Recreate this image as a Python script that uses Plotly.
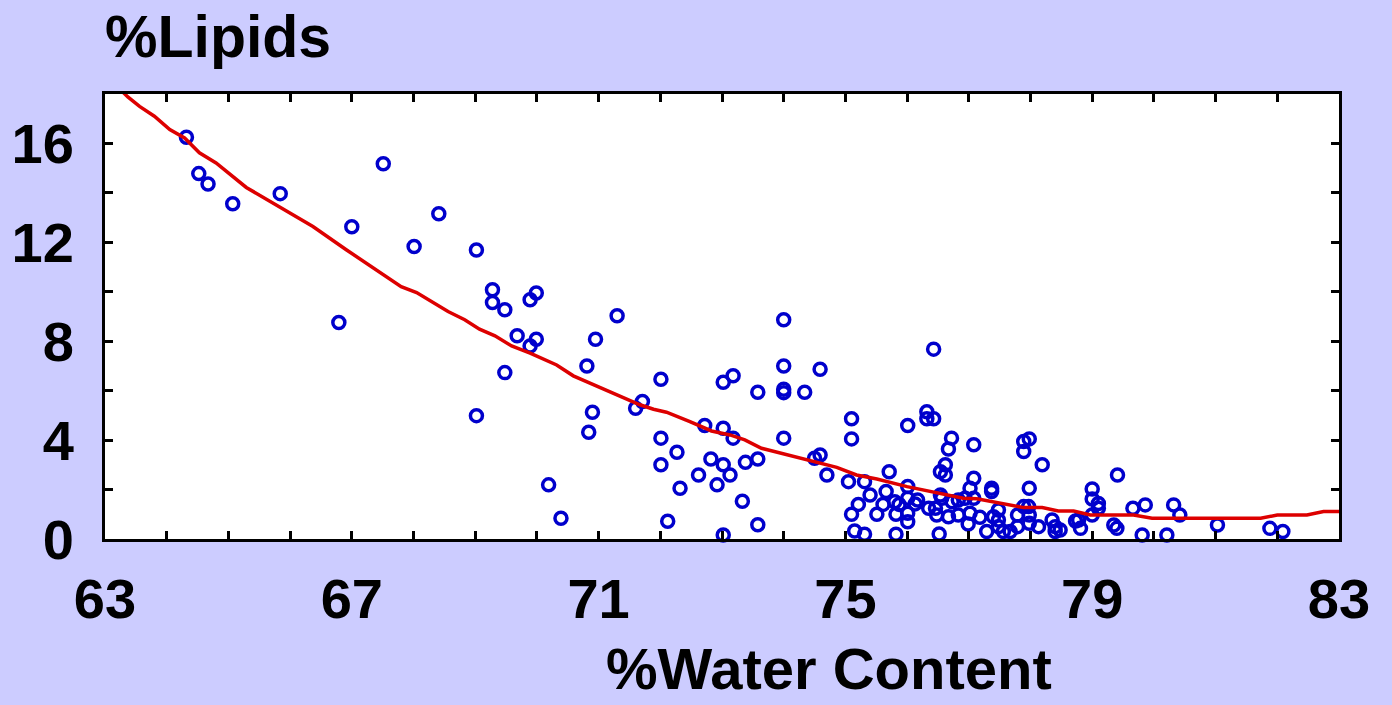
import plotly.graph_objects as go

# Scatter data
water = [64.32, 64.52, 64.67, 65.07, 65.84, 67.51, 67.0, 66.79, 68.41, 68.01, 69.02, 69.28, 69.28,
         69.48, 69.89, 69.99, 69.68, 69.89, 69.99, 69.48, 69.02, 71.30, 70.95, 70.81, 70.90, 70.84,
         70.19, 70.39, 71.60, 71.71,
         72.01, 72.01, 72.01, 72.27, 72.32, 72.12, 72.72, 73.02, 73.18, 73.02, 73.18, 72.82, 73.02,
         73.13, 72.62, 72.92, 73.02, 73.33, 73.38, 73.58, 73.58, 73.58,
         74.0, 74.0, 74.0, 74.0, 74.0, 74.34, 74.59, 74.50, 74.59, 74.70,
         75.10, 75.10, 75.05, 75.31, 75.40, 75.21, 75.10, 75.15, 75.31, 75.51, 75.61, 75.66, 75.71,
         75.82, 75.87, 75.82, 75.80,
         76.01, 76.01, 76.01, 76.01, 76.01, 76.13, 76.17, 76.32, 76.32, 76.43, 76.43, 76.35, 76.46,
         76.48, 76.52, 76.54, 76.62, 76.62, 76.67, 76.72, 76.56, 76.54, 76.73, 76.83, 76.67, 76.83, 76.94,
         77.08, 77.08, 77.02, 77.08, 77.02, 76.99, 77.18, 77.29, 77.37, 77.37, 77.40, 77.48, 77.48,
         77.48, 77.56, 77.67, 77.79, 77.79,
         77.89, 77.98, 77.89, 78.19, 77.98, 77.89, 77.97, 77.98, 77.98, 78.13, 78.35, 78.40, 78.40, 78.48,
         78.73, 78.78, 78.81, 79.0, 79.0, 79.10, 79.10, 79.0, 79.35, 79.40, 79.41, 79.66, 79.86, 79.81,
         80.21, 80.32, 80.42, 81.03, 81.88, 82.09]
lipids = [16.25, 14.78, 14.36, 13.56, 13.97, 15.18, 12.63, 8.76, 13.16, 11.83, 11.69, 10.08, 9.57,
          9.27, 9.68, 9.95, 8.22, 7.81, 8.08, 6.73, 4.99, 9.03, 8.08, 7.0, 5.13, 4.32,
          2.19, 0.84, 5.29, 5.56,
          6.46, 4.08, 3.0, 3.51, 2.05, 0.72, 4.59, 6.34, 6.6, 4.48, 4.08, 3.24, 3.0,
          2.59, 2.59, 2.19, 0.16, 1.53, 3.1, 3.24, 5.94, 0.58,
          8.87, 7.0, 6.06, 5.92, 4.08, 5.94, 6.87, 3.27, 3.4, 2.59,
          4.86, 4.05, 2.32, 2.32, 1.78, 1.40, 1.0, 0.32, 0.19, 1.0, 1.40, 1.92, 2.72,
          1.0, 1.40, 0.19, 1.51,
          4.59, 2.12, 1.65, 1.04, 0.70, 1.42, 1.58, 5.15, 4.86, 4.86, 7.68, 1.24, 1.24,
          0.97, 0.2, 2.72, 3.0, 2.59, 3.64, 4.08, 1.65, 1.78, 1.51, 1.58, 0.90, 0.97, 1.65,
          3.81, 2.46, 2.05, 1.65, 1.04, 0.61, 0.88, 0.30, 2.05, 1.92, 0.90, 1.17, 0.77,
          0.50, 0.30, 0.30, 0.97, 0.50,
          3.94, 4.05, 3.54, 3.0, 2.05, 1.31, 1.31, 0.97, 0.64, 0.50, 0.77, 0.50, 0.30, 0.36,
          0.73, 0.77, 0.43, 2.02, 1.62, 1.44, 1.24, 0.97, 0.57, 0.43, 2.59, 1.24, 1.38, 0.16,
          0.16, 1.38, 0.97, 0.57, 0.43, 0.30]

# Smoothed fit curve
curve_x = [63.2, 63.37, 63.56, 63.80, 64.05, 64.29, 64.53, 64.80, 65.29, 65.83, 66.37, 66.91, 67.45,
           67.80, 68.05, 68.56, 68.83, 69.07, 69.32, 69.59, 69.89, 70.32, 70.59, 70.97, 71.35, 71.67,
           71.89, 72.10, 72.48, 72.83, 73.13, 73.37, 73.64, 73.99, 74.27, 74.43, 74.86, 75.18, 75.51,
           76.00, 76.54, 76.91, 77.13, 77.51, 77.89, 78.19, 78.45, 78.70, 78.97, 79.67, 79.97, 81.73,
           82.00, 82.48, 82.75, 83.0]
curve_y = [18.3, 17.88, 17.50, 17.10, 16.56, 16.22, 15.62, 15.21, 14.22, 13.43, 12.64, 11.70, 10.82,
           10.21, 9.97, 9.20, 8.87, 8.49, 8.22, 7.81, 7.52, 7.04, 6.60, 6.19, 5.81, 5.43,
           5.25, 5.13, 4.75, 4.37, 4.21, 4.01, 3.67, 3.44, 3.27, 3.17, 2.90, 2.59, 2.43,
           2.12, 1.85, 1.65, 1.63, 1.46, 1.27, 1.27, 1.13, 1.13, 0.97, 0.97, 0.84, 0.84,
           0.97, 0.97, 1.11, 1.11]

x_ticks = list(range(63, 84))
x_labels = [str(v) if (v - 63) % 4 == 0 else "" for v in x_ticks]
y_ticks = list(range(0, 19, 2))
y_labels = [str(v) if v % 4 == 0 and v <= 16 else "" for v in y_ticks]

FONT = "Liberation Sans, Arial, sans-serif"
TICKFONT = dict(family=FONT, size=56, color="black", weight="bold")

fig = go.Figure()
fig.add_trace(go.Scatter(x=water, y=lipids, mode="markers",
                         marker=dict(symbol="circle-open", size=12, color="#0000cc",
                                     line=dict(width=3.5, color="#0000cc")),
                         cliponaxis=False, showlegend=False))
fig.add_trace(go.Scatter(x=curve_x, y=curve_y, mode="lines",
                         line=dict(color="#dd0000", width=3.5), showlegend=False))

axis_common = dict(showgrid=False, zeroline=False, showline=True, linecolor="black", linewidth=3,
                   mirror="ticks", ticks="inside", ticklen=8, tickwidth=2.5, tickcolor="black",
                   tickfont=TICKFONT)

fig.update_xaxes(range=[63, 83], tickmode="array", tickvals=x_ticks, ticktext=x_labels,
                 ticklabelstandoff=9, **axis_common)
fig.update_yaxes(range=[0, 18], tickmode="array", tickvals=y_ticks, ticktext=y_labels,
                 ticklabelstandoff=17, **axis_common)

fig.update_layout(
    width=1392, height=705,
    paper_bgcolor="#ccccff", plot_bgcolor="white",
    margin=dict(l=105, r=53, t=94, b=166),
    font=dict(family=FONT, color="black"),
    annotations=[
        dict(text="<b>%Lipids</b>", xref="paper", yref="paper", x=-0.002, y=1.0 + 57 / 445,
             xanchor="left", yanchor="middle", showarrow=False,
             font=dict(family=FONT, size=59, color="black")),
        dict(text="<b>%Water Content</b>", xref="paper", yref="paper", x=(829 - 105) / 1234,
             y=-(668 - 539) / 445, xanchor="center", yanchor="middle", showarrow=False,
             font=dict(family=FONT, size=58, color="black")),
    ],
)

fig.write_html("out.html", config={"displayModeBar": False},
               post_script="document.body.style.margin='0';document.body.style.overflow='hidden';")
